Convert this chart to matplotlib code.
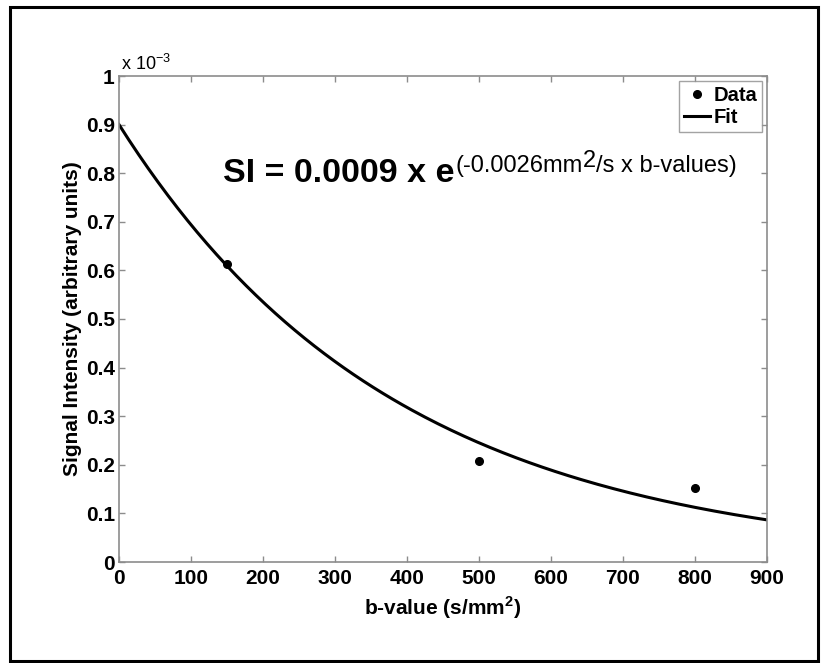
import numpy as np
import matplotlib
matplotlib.use("Agg")
import matplotlib.pyplot as plt
from matplotlib.patches import Rectangle
from matplotlib.ticker import FuncFormatter

plt.rcParams['font.family'] = ['Liberation Sans', 'DejaVu Sans']
plt.rcParams['mathtext.fontset'] = 'custom'
plt.rcParams['mathtext.rm'] = 'Liberation Sans'
plt.rcParams['mathtext.bf'] = 'Liberation Sans:bold'

# measured signal at each b-value
b_values = [150, 500, 800]
signal = [0.000613, 0.000207, 0.000152]

# mono-exponential fit  SI = S0 * exp(-ADC * b)
s0 = 0.0009
adc = 0.0026
b_fit = np.linspace(0, 900, 200)
si_fit = s0 * np.exp(-adc * b_fit)

x_ticks = list(range(0, 1000, 100))
y_ticks = [i * 1e-4 for i in range(11)]

W, H = 824, 663
fig = plt.figure(figsize=(W / 100, H / 100), dpi=100)
ax = fig.add_axes([119 / W, 1 - 562 / H, (767 - 119) / W, (562 - 76) / H])

ax.plot(b_values, signal, 'o', color='black', markersize=5.5, label='Data')
ax.plot(b_fit, si_fit, '-', color='black', linewidth=2.2, label='Fit')

ax.set_xlim(0, 900)
ax.set_ylim(0, 1e-3)
ax.set_xticks(x_ticks)
ax.set_yticks(y_ticks)
ax.yaxis.set_major_formatter(FuncFormatter(lambda v, p: '%g' % round(v * 1e3, 3)))

gray = '#8c8c8c'
for s in ax.spines.values():
    s.set_color(gray)
    s.set_linewidth(1.2)
ax.tick_params(direction='in', length=4, width=1, color=gray,
               top=True, right=True, labelsize=15)
ax.tick_params(axis='x', pad=5)
ax.tick_params(axis='y', pad=3)
for lab in ax.get_xticklabels() + ax.get_yticklabels():
    lab.set_fontweight('bold')

ax.set_xlabel(r'b-value (s/mm$^{\mathbf{2}}$)', fontsize=15, fontweight='bold', labelpad=5)
ax.set_ylabel('Signal Intensity (arbitrary units)', fontsize=15, fontweight='bold', labelpad=3)

ax.text(0.003, 1.004, r'x 10$^{-3}$', transform=ax.transAxes, fontsize=13,
        ha='left', va='bottom')

leg = ax.legend(loc='upper right', fontsize=14.5, frameon=True, fancybox=False,
                borderaxespad=0.25, handlelength=1.3, handletextpad=0.15,
                borderpad=0.25, labelspacing=0.15, markerscale=1.0)
leg.get_frame().set_edgecolor(gray)
leg.get_frame().set_linewidth(1.0)
for t in leg.get_texts():
    t.set_fontweight('bold')

# fit equation, built piece by piece so the exponent sits as a superscript
x0, base = 223, H - 182
main = fig.text(x0, base, 'SI = 0.0009 x e', transform=None, fontsize=24.5,
                fontweight='bold', ha='left', va='baseline')
fig.canvas.draw()
r = fig.canvas.get_renderer()
x = main.get_window_extent(r).x1 + 1
pieces = [('(-0.0026mm', 10), ('2', 15), ('/s x b-values)', 10)]
for txt, rise in pieces:
    t = fig.text(x, base + rise, txt, transform=None, fontsize=17,
                 ha='left', va='baseline')
    x = t.get_window_extent(r).x1

# outer frame
fig.patches.append(Rectangle((10, H - 661), 808, 654, transform=None,
                             fill=False, edgecolor='black', linewidth=2.2))

fig.savefig('out.png', dpi=100)
